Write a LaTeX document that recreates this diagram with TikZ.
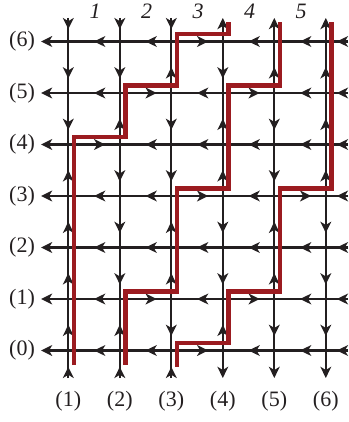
\documentclass[tikz,border=0pt]{standalone}
\usepackage{fontspec}
\setmainfont{Liberation Serif}
\usetikzlibrary{arrows.meta,decorations.markings}
\definecolor{ink}{RGB}{35,31,32}
\definecolor{pathred}{RGB}{155,27,32}
\tikzset{
  >={Stealth[length=5.6pt,width=5.4pt,inset=1.6pt]},
  edge/.style={draw=ink, color=ink, line width=1.1pt},
  tipmid/.style={edge, postaction={decorate},
    decoration={markings, mark=at position 0.5 with {\arrow{>}}}},
  tipshift/.style={edge, postaction={decorate},
    decoration={markings, mark=at position 0.5 with {\pgftransformxshift{5.6pt}\arrow{>}}}},
  tipstart/.style={edge, postaction={decorate},
    decoration={markings, mark=at position 5.6pt with {\arrow{>}}}},
  tipend/.style={edge, ->},
  redpath/.style={draw=pathred, line width=2.2pt, line join=miter},
  lbl/.style={inner sep=0pt, text=ink, font=\fontsize{11}{13}\selectfont},
}
\begin{document}
\begin{tikzpicture}[x=0.5pt, y=-0.5pt]
\useasboundingbox (0,0) rectangle (348,422);
% grid points and offset points
\foreach \i in {1,...,6} {
  \foreach \j in {0,...,6} {
    \coordinate (v-\i-\j) at ({68.3+(\i-1)*51.5},{350.5-\j*51.5});
    \coordinate (w-\i-\j) at ({74+(\i-1)*51.5},{343-\j*51.5});
  }
  \coordinate (t-\i) at ({68.3+(\i-1)*51.5},18);
  \coordinate (b-\i) at ({68.3+(\i-1)*51.5},378);
}
\foreach \j in {0,...,6} {
  \coordinate (l-\j) at (41,{350.5-\j*51.5});
  \coordinate (r-\j) at (348,{350.5-\j*51.5});
}
% horizontal segments pointing left
\foreach \j/\i in {6/1,6/2,6/4,6/5, 5/1,5/3,5/5, 4/2,4/3,4/4,4/5, 3/1,3/2,3/4,
  2/1,2/2,2/3,2/4,2/5, 1/1,1/3,1/5, 0/1,0/2,0/4,0/5} {
  \pgfmathtruncatemacro\k{\i+1}
  \draw[tipmid] (v-\k-\j) -- (v-\i-\j);
}
% horizontal segments pointing right
\foreach \j/\i in {6/3, 5/2,5/4, 4/1, 3/3,3/5, 1/2,1/4, 0/3} {
  \pgfmathtruncatemacro\k{\i+1}
  \draw[tipshift] (v-\i-\j) -- (v-\k-\j);
}
% vertical segments pointing up
\foreach \i/\j in {1/0,1/1,1/2,1/3, 2/0,2/4, 3/1,3/2,3/5, 4/0,4/3,4/4, 5/1,5/2,5/5, 6/3,6/4,6/5} {
  \pgfmathtruncatemacro\k{\j+1}
  \draw[tipmid] (v-\i-\j) -- (v-\i-\k);
}
% vertical segments pointing down
\foreach \i/\j in {1/4,1/5, 2/1,2/2,2/3,2/5, 3/0,3/3,3/4, 4/1,4/2,4/5, 5/0,5/3,5/4, 6/0,6/1,6/2} {
  \pgfmathtruncatemacro\k{\j+1}
  \draw[tipshift] (v-\i-\k) -- (v-\i-\j);
}
% end segments
\foreach \j in {0,...,6} {
  \draw[tipend] (v-1-\j) -- (l-\j);
  \draw[tipstart] (r-\j) -- (v-6-\j);
}
\foreach \i in {1,2,3} {
  \draw[tipstart] (t-\i) -- (v-\i-6);
  \draw[tipstart] (b-\i) -- (v-\i-0);
}
\foreach \i in {4,5,6} {
  \draw[tipend] (v-\i-6) -- (t-\i);
  \draw[tipend] (v-\i-0) -- (b-\i);
}
% red paths
\coordinate (sA) at (74,365);
\coordinate (sB) at (125.5,365);
\coordinate (sC) at (177,366.5);
\coordinate (eA) at (228.5,22);
\coordinate (eB) at (280,22);
\coordinate (eC) at (331.5,22);
\draw[redpath] (sA) -- (w-1-4) -- (w-2-4) -- (w-2-5) -- (w-3-5) -- (w-3-6) -- (w-4-6) -- (eA);
\draw[redpath] (sB) -- (w-2-1) -- (w-3-1) -- (w-3-3) -- (w-4-3) -- (w-4-5) -- (w-5-5) -- (eB);
\draw[redpath] (sC) -- (w-3-0) -- (w-4-0) -- (w-4-1) -- (w-5-1) -- (w-5-3) -- (w-6-3) -- (eC);
% labels
\foreach \j in {0,...,6} {
  \node[lbl] (rl-\j) at (22,{350.5-\j*51.5}) {(\j)};
}
\foreach \i in {1,...,6} {
  \node[lbl] (cl-\i) at ({68.3+(\i-1)*51.5},401.5) {(\i)};
}
\foreach \i in {1,...,5} {
  \node[lbl, font=\fontsize{11}{13}\selectfont\itshape] (tl-\i) at ({95+(\i-1)*51.5},11) {\i};
}
\end{tikzpicture}
\end{document}
